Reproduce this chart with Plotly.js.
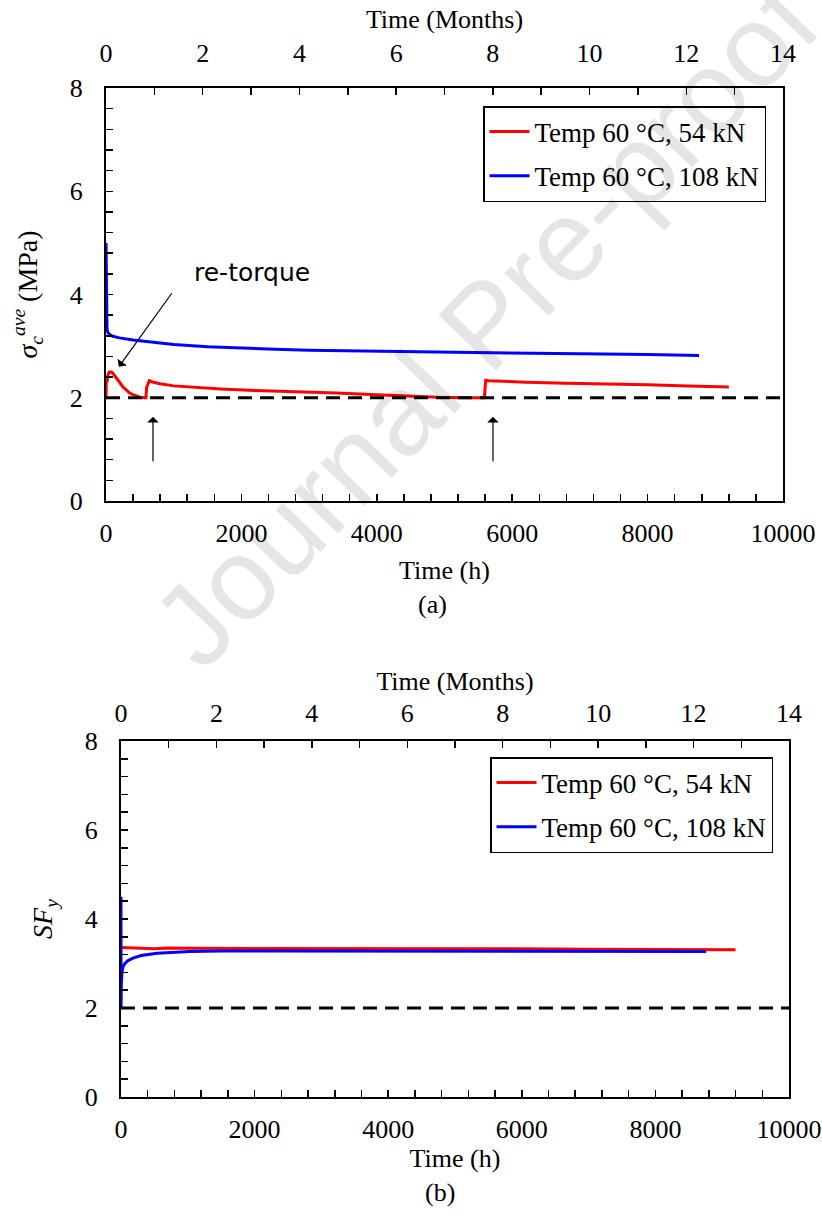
<!DOCTYPE html>
<html>
<head>
<meta charset="utf-8">
<script src="https://cdn.plot.ly/plotly-3.0.1.min.js"></script>
<style>html,body{margin:0;padding:0;background:#fff;}#chart{width:822px;height:1218px;}</style>
</head>
<body>
<div id="chart"></div>
<script>
// ---- Data ----
// (a) average contact stress, MPa, vs time (h)
const redHoursA = [0,5,15,30,50,70,90,110,130,160,200,250,300,350,400,450,500,575,590,600,640,700,800,1000,1300,1700,2200,2800,3400,4000,4500,4900,5300,5590,5600,5610,5650,5800,6200,6800,7400,8000,8600,9200];
const redStressA = [2.0,2.42,2.3,2.45,2.5,2.5,2.49,2.46,2.42,2.36,2.3,2.21,2.14,2.09,2.06,2.03,2.01,2.0,2.0,2.2,2.33,2.3,2.27,2.23,2.2,2.17,2.14,2.12,2.09,2.06,2.03,2.01,2.0,2.0,2.2,2.34,2.33,2.32,2.3,2.28,2.27,2.25,2.23,2.21];
const blueHoursA = [0,3,8,15,30,60,100,200,400,700,1000,1500,2000,2500,3000,4000,5000,6000,7000,8000,8760];
const blueStressA = [5.0,3.8,3.45,3.32,3.26,3.22,3.19,3.16,3.12,3.07,3.03,2.99,2.96,2.94,2.92,2.9,2.88,2.87,2.85,2.84,2.82];
// (b) safety factor SF_y vs time (h)
const redHoursB = [0,100,300,500,600,700,1000,2000,3000,4000,5000,6000,7000,8000,9200];
const redSFB = [3.36,3.35,3.34,3.33,3.34,3.35,3.34,3.34,3.34,3.33,3.33,3.33,3.32,3.32,3.31];
const blueHoursB = [0,1,5,15,30,60,100,180,300,540,800,1030,1500,2000,3000,4000,5000,6000,7000,8000,8760];
const blueSFB = [4.5,2.0,2.55,2.8,2.93,3.0,3.06,3.12,3.18,3.23,3.26,3.27,3.28,3.28,3.28,3.28,3.27,3.27,3.27,3.27,3.27];
// threshold line (spans the whole month axis)
const thresholdMonths = [0,14];
const thresholdValue = [2,2];
// series names
const seriesNames = ['Temp 60 °C, 54 kN','Temp 60 °C, 108 kN'];
// re-torque markers (hours) and the label
const retorqueHours = [694,5716];
const retorqueLabelHours = 190;

// ---- Styles ----
const SERIF = 'Liberation Serif';
function tf(sz){ return {family: SERIF, size: sz || 26, color: '#000'}; }
const RED = '#ff0000', BLUE = '#0000ff';

function xAxisH(domain, anchor, titleStandoff){
  return {domain: domain, anchor: anchor, range:[0,10000], dtick:2000, tick0:0, tickformat:'d',
    ticks:'inside', ticklen:7, tickwidth:1.5, tickcolor:'#000',
    minor:{dtick:400, tick0:0, ticks:'inside', ticklen:7, tickwidth:1.5, tickcolor:'#000', showgrid:false},
    showline:true, linewidth:2, linecolor:'#000', mirror:true, showgrid:false, zeroline:false,
    tickfont: tf(26), ticklabelstandoff: 8,
    title:{text:'Time (h)', font: tf(26), standoff: titleStandoff}};
}
function xAxisM(domain, overlay, anchor, labelStandoff, titleStandoff){
  return {domain: domain, overlaying: overlay, anchor: anchor, side:'top', range:[0,14], dtick:2, tick0:0, tickformat:'d',
    ticks:'inside', ticklen:7, tickwidth:1.5, tickcolor:'#000',
    minor:{dtick:1, tick0:0, ticks:'inside', ticklen:7, tickwidth:1.5, tickcolor:'#000', showgrid:false},
    showline:true, linewidth:2, linecolor:'#000', showgrid:false, zeroline:false,
    tickfont: tf(26), ticklabelstandoff: labelStandoff,
    title:{text:'Time (Months)', font: tf(26), standoff: titleStandoff}};
}
function yAxis(domain, anchor, title){
  return {domain: domain, anchor: anchor, range:[0,8], dtick:2, tick0:0, tickformat:'d',
    ticks:'inside', ticklen:7, tickwidth:1.5, tickcolor:'#000',
    minor:{dtick:0.4, tick0:0, ticks:'inside', ticklen:7, tickwidth:1.5, tickcolor:'#000', showgrid:false},
    showline:true, linewidth:2, linecolor:'#000', mirror:true, showgrid:false, zeroline:false,
    tickfont: tf(26), ticklabelstandoff: 16,
    title:{text: title, font: tf(28), standoff: 24}};
}

const W = 822, H = 1218;
const domXA = [106/W, 783/W], domXB = [121/W, 789/W];
const domYA = [1-501/H, 1-88/H], domYB = [1-1097/H, 1-741/H];

const traces = [
  {x: thresholdMonths, y: thresholdValue, xaxis:'x2', yaxis:'y', mode:'lines', showlegend:false, hoverinfo:'skip',
   line:{color:'#000', width:3, dash:'14px,8px'}},
  {x: redHoursA, y: redStressA, xaxis:'x', yaxis:'y', mode:'lines', name: seriesNames[0], legend:'legend', legendgroup:'a1',
   line:{color:RED, width:3}},
  {x: blueHoursA, y: blueStressA, xaxis:'x', yaxis:'y', mode:'lines', name: seriesNames[1], legend:'legend', legendgroup:'a2',
   line:{color:BLUE, width:3}},
  {x: thresholdMonths, y: thresholdValue, xaxis:'x4', yaxis:'y2', mode:'lines', showlegend:false, hoverinfo:'skip',
   line:{color:'#000', width:3, dash:'14px,8px'}},
  {x: redHoursB, y: redSFB, xaxis:'x3', yaxis:'y2', mode:'lines', name: seriesNames[0], legend:'legend2', legendgroup:'b1',
   line:{color:RED, width:3}},
  {x: blueHoursB, y: blueSFB, xaxis:'x3', yaxis:'y2', mode:'lines', name: seriesNames[1], legend:'legend2', legendgroup:'b2',
   line:{color:BLUE, width:3}}
];

function legendBase(x, y){
  return {x: x, y: y, xanchor:'left', yanchor:'top', bgcolor:'rgba(255,255,255,0)', bordercolor:'#000', borderwidth:1.5,
    font: tf(27), traceorder:'grouped', tracegroupgap: 6, itemwidth: 40};
}

const annotations = [
  // watermark
  {xref:'paper', yref:'paper', x: 485/W, y: 1-324/H, text:'Journal Pre-proof', showarrow:false, textangle:-46,
   font:{family:'Liberation Sans', size:116, color:'rgba(0,0,0,0.10)'}, xanchor:'center', yanchor:'middle'},
  // re-torque label with arrow
  {xref:'x', yref:'y', x: retorqueLabelHours, y: 2.6, ax: 54, ay: -75, axref:'pixel', ayref:'pixel', text:'', showarrow:true,
   arrowhead:1, arrowsize:1.6, arrowwidth:1.2, arrowcolor:'#000'},
  {xref:'x', yref:'y', x: 2150, y: 4.42, text:'re-torque', showarrow:false,
   font:{family:'DejaVu Sans', size:25, color:'#000'}},
  // sub-figure labels
  {xref:'paper', yref:'paper', x: 432/W, y: 1-588/H, yanchor:'top', text:'(a)', showarrow:false, font: tf(26)},
  {xref:'paper', yref:'paper', x: 440/W, y: 1-1176/H, yanchor:'top', text:'(b)', showarrow:false, font: tf(26)}
];
retorqueHours.forEach(function(h){
  annotations.push({xref:'x', yref:'y', x: h, y: 1.63, ax: 0, ay: 46, text:'', showarrow:true,
    arrowhead:1, arrowsize:1.6, arrowwidth:1.2, arrowcolor:'#000'});
});

const layout = {
  width: W, height: H, paper_bgcolor:'#fff', plot_bgcolor:'rgba(0,0,0,0)',
  margin:{l:0, r:0, t:0, b:0},
  font:{family: SERIF, color:'#000', size: 26},
  xaxis: xAxisH(domXA, 'y', 14),
  xaxis2: xAxisM(domXA, 'x', 'y', 14, 2),
  xaxis3: xAxisH(domXB, 'y2', 4),
  xaxis4: xAxisM(domXB, 'x3', 'y2', 7, 0),
  yaxis: yAxis(domYA, 'x', '<i>σ</i><sub><i>c</i></sub><sup><i>ave</i></sup> (MPa)'),
  yaxis2: yAxis(domYB, 'x3', '<i>SF</i><sub><i>y</i></sub>'),
  legend: legendBase(483/W, 1-106/H),
  legend2: legendBase(490/W, 1-757/H),
  annotations: annotations,
  showlegend: true
};

Plotly.newPlot('chart', traces, layout, {staticPlot:true, displayModeBar:false});
</script>
</body>
</html>
